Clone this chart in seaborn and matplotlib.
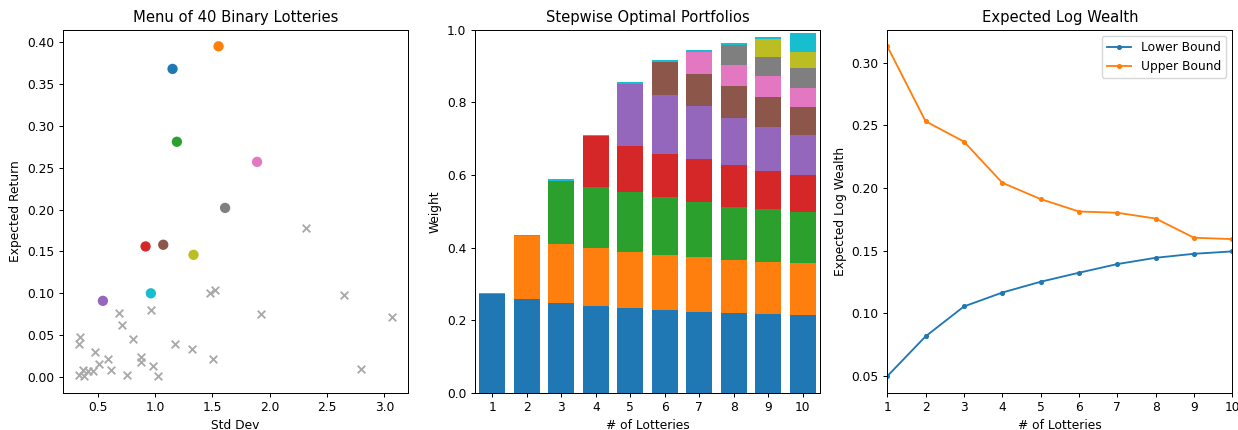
import numpy as np
import pandas as pd
import matplotlib
matplotlib.use("Agg")
import matplotlib.pyplot as plt
import seaborn as sns

# ---------------- data ----------------
# Highlighted lotteries (the 10 chosen ones), in selection order
sel_std = [1.153, 1.554, 1.191, 0.918, 0.546, 1.072, 1.890, 1.611, 1.336, 0.964]
sel_ret = [0.368, 0.395, 0.281, 0.156, 0.091, 0.158, 0.257, 0.202, 0.146, 0.100]

# Remaining lotteries of the menu
oth_std = [2.317, 1.478, 1.522, 2.648, 1.925, 3.066, 0.688, 0.709, 0.964, 0.810,
           1.171, 1.324, 1.504, 2.794, 0.346, 0.337, 0.474, 0.587, 0.509, 0.613,
           0.878, 0.878, 0.984, 1.025, 0.755, 0.337, 0.381, 0.375, 0.418, 0.462]
oth_ret = [0.178, 0.100, 0.104, 0.098, 0.075, 0.072, 0.077, 0.062, 0.080, 0.046,
           0.040, 0.033, 0.021, 0.010, 0.048, 0.039, 0.030, 0.021, 0.015, 0.009,
           0.024, 0.018, 0.013, 0.001, 0.002, 0.002, 0.001, 0.008, 0.007, 0.007]

# Stepwise optimal portfolio weights: one array per lottery, over steps 1..10
steps = [1, 2, 3, 4, 5, 6, 7, 8, 9, 10]
w_l1 = [0.2715, 0.257, 0.2466, 0.2385, 0.233, 0.2275, 0.222, 0.219, 0.2164, 0.2136]
w_l2 = [0.0, 0.1749, 0.1624, 0.1595, 0.154, 0.1513, 0.151, 0.146, 0.1431, 0.1431]
w_l3 = [0.0, 0.0, 0.1756, 0.170, 0.1648, 0.1592, 0.1515, 0.148, 0.148, 0.1423]
w_l4 = [0.0, 0.0, 0.0, 0.138, 0.1292, 0.121, 0.1185, 0.1135, 0.1045, 0.102]
w_l5 = [0.0, 0.0, 0.0, 0.0, 0.171, 0.160, 0.146, 0.1315, 0.121, 0.108]
w_l6 = [0.0, 0.0, 0.0, 0.0, 0.0, 0.093, 0.090, 0.088, 0.083, 0.077]
w_l7 = [0.0, 0.0, 0.0, 0.0, 0.0, 0.0, 0.061, 0.058, 0.058, 0.055]
w_l8 = [0.0, 0.0, 0.0, 0.0, 0.0, 0.0, 0.0, 0.055, 0.052, 0.055]
w_l9 = [0.0, 0.0, 0.0, 0.0, 0.0, 0.0, 0.0, 0.0, 0.050, 0.044]
w_l10 = [0.0, 0.0, 0.0, 0.0, 0.0, 0.0, 0.0, 0.0, 0.0, 0.050]
w_rest = [0.004, 0.004, 0.004, 0.004, 0.004, 0.004, 0.004, 0.004, 0.004, 0.0]

# Expected log wealth bounds
lower_bound = [0.050, 0.0818, 0.1056, 0.1167, 0.1253, 0.1325, 0.1394, 0.1444, 0.1476, 0.1495]
upper_bound = [0.313, 0.2532, 0.237, 0.2042, 0.1912, 0.1813, 0.1803, 0.1757, 0.1604, 0.1593]

# ---------------- style ----------------
sc = 0.885
plt.rcParams.update({
    "font.size": 10 * sc,
    "axes.titlesize": 12 * sc,
    "axes.labelsize": 10 * sc,
    "xtick.labelsize": 10 * sc,
    "ytick.labelsize": 10 * sc,
    "legend.fontsize": 10 * sc,
    "axes.linewidth": 0.8 * sc,
    "xtick.major.size": 3.5 * sc,
    "ytick.major.size": 3.5 * sc,
    "xtick.major.width": 0.8 * sc,
    "ytick.major.width": 0.8 * sc,
    "xtick.major.pad": 3.5 * sc,
    "ytick.major.pad": 3.5 * sc,
    "lines.linewidth": 1.5 * sc,
    "lines.markersize": 6 * sc,
    "axes.titlepad": 6 * sc,
    "axes.labelpad": 4 * sc,
})

# ---------------- figure ----------------
pal = sns.color_palette("tab10", 10)
fig = plt.figure(figsize=(12.38, 4.30), dpi=100)
ax1 = fig.add_axes([0.0511, 0.0867, 0.2782, 0.844])
ax2 = fig.add_axes([0.3837, 0.0867, 0.2787, 0.844])
ax3 = fig.add_axes([0.7167, 0.0867, 0.2787, 0.844])

# Left: menu scatter
sns.scatterplot(x=oth_std, y=oth_ret, marker="x", color="#a9a9a9", s=30,
                linewidth=1.5 * sc, ax=ax1, legend=False)
sel_df = pd.DataFrame({"std": sel_std, "ret": sel_ret,
                       "lot": [f"L{i+1}" for i in range(10)]})
sns.scatterplot(data=sel_df, x="std", y="ret", hue="lot", palette=pal, s=55,
                linewidth=0, ax=ax1, legend=False)
ax1.set_title("Menu of 40 Binary Lotteries")
ax1.set_xlabel("Std Dev")
ax1.set_ylabel("Expected Return")

# Middle: stacked bars (drawn top layer first)
layers = [w_l1, w_l2, w_l3, w_l4, w_l5, w_l6, w_l7, w_l8, w_l9, w_l10]
cum = np.cumsum(np.array(layers), axis=0)
total = cum[-1] + np.array(w_rest)
sns.barplot(x=steps, y=total, color=pal[9], width=0.75, saturation=1,
            linewidth=0, errorbar=None, ax=ax2)
for k in range(9, -1, -1):
    sns.barplot(x=steps, y=cum[k], color=pal[k], width=0.75, saturation=1,
                linewidth=0, errorbar=None, ax=ax2)
ax2.set_ylim(0, 1.0)
ax2.set_title("Stepwise Optimal Portfolios")
ax2.set_xlabel("# of Lotteries")
ax2.set_ylabel("Weight")

# Right: bounds
sns.lineplot(x=steps, y=lower_bound, marker=".", color=pal[0], mec=pal[0],
             mew=1, label="Lower Bound", ax=ax3)
sns.lineplot(x=steps, y=upper_bound, marker=".", color=pal[1], mec=pal[1],
             mew=1, label="Upper Bound", ax=ax3)
ax3.set_xlim(1, 10)
ax3.set_xticks(steps)
ax3.legend(loc="upper right")
ax3.set_title("Expected Log Wealth")
ax3.set_xlabel("# of Lotteries")
ax3.set_ylabel("Expected Log Wealth")

fig.savefig("out.png", dpi=100)
